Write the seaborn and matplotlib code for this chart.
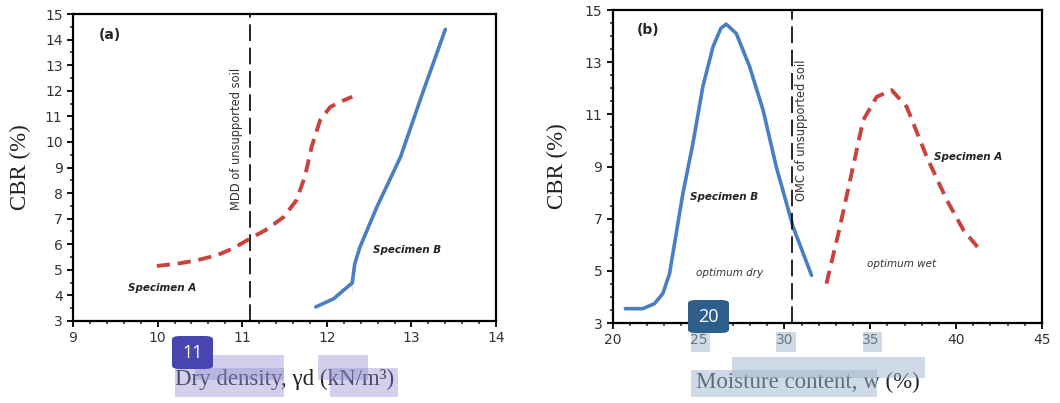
import numpy as np
import pandas as pd
import matplotlib
matplotlib.use("Agg")
import matplotlib.pyplot as plt
import seaborn as sns
from matplotlib.ticker import MultipleLocator, FixedLocator
from matplotlib.patches import Rectangle, FancyBboxPatch

# ---------------- data ----------------
# panel (a): CBR vs dry density
a_specA_x = [9.99, 10.25, 10.46, 10.70, 10.90, 11.09, 11.30, 11.49, 11.64, 11.74, 11.82, 11.92, 12.04, 12.18, 12.30]
a_specA_y = [5.15, 5.25, 5.37, 5.57, 5.85, 6.22, 6.60, 7.07, 7.72, 8.64, 9.81, 10.85, 11.37, 11.60, 11.77]
a_specB_x = [11.87, 12.08, 12.30, 12.30, 12.33, 12.39, 12.59, 12.87, 13.13, 13.40]
a_specB_y = [3.55, 3.87, 4.13, 4.85, 5.24, 5.88, 7.45, 9.41, 11.90, 14.40]
mdd_x = 11.09

# panel (b): CBR vs moisture content
b_specB_x = [20.74, 21.75, 22.43, 22.92, 23.31, 23.70, 24.09, 24.67, 25.25, 25.84, 26.30, 26.61, 27.20, 27.98, 28.76, 29.53, 30.51, 31.58]
b_specB_y = [3.55, 3.55, 3.74, 4.13, 4.89, 6.43, 7.97, 9.88, 12.06, 13.59, 14.30, 14.46, 14.10, 12.82, 11.16, 8.98, 6.68, 4.83]
b_specA_x = [32.45, 33.23, 33.91, 34.59, 35.37, 36.25, 37.12, 38.29, 39.46, 40.43, 41.40]
b_specA_y = [4.51, 6.68, 8.73, 10.78, 11.67, 11.93, 11.29, 9.37, 7.71, 6.56, 5.79]
omc_x = 30.45

a_yticks = list(range(3, 16, 1))
b_yticks = list(range(3, 16, 2))

blue = "#4a7ec2"
red = "#c8433d"

sns.set_style("ticks")
plt.rcParams['font.family'] = ['DejaVu Sans']
serif = ['Liberation Serif', 'DejaVu Serif']

fig = plt.figure(figsize=(10.6, 4.03), dpi=100)
axA = fig.add_axes([0.0689, 0.2035, 0.3991, 0.7615])
axB = fig.add_axes([0.578, 0.1985, 0.405, 0.7765])

def style(ax):
    for s in ax.spines.values():
        s.set_linewidth(1.6)
        s.set_color("black")
    ax.tick_params(which="major", direction="out", length=4, width=1.3, labelsize=10, colors="black")
    ax.tick_params(which="minor", direction="out", length=2.5, width=1.1)
    ax.tick_params(axis="both", labelcolor="#333333")

# panel a
dfa1 = pd.DataFrame({"x": a_specA_x, "y": a_specA_y})
dfa2 = pd.DataFrame({"x": a_specB_x, "y": a_specB_y})
sns.lineplot(data=dfa1, x="x", y="y", ax=axA, sort=False, color=red, lw=2.8)
axA.lines[-1].set_dashes([3.4, 2.0])
sns.lineplot(data=dfa2, x="x", y="y", ax=axA, sort=False, color=blue, lw=2.6)
axA.lines[-1].set_solid_capstyle("round")
axA.axvline(mdd_x, color="black", lw=1.2, dashes=(10, 4))
axA.set_xlim(9, 14)
axA.set_ylim(3, 15)
axA.xaxis.set_major_locator(MultipleLocator(1))
axA.xaxis.set_minor_locator(MultipleLocator(0.2))
axA.yaxis.set_major_locator(FixedLocator(a_yticks))
axA.yaxis.set_minor_locator(MultipleLocator(0.5))
style(axA)
axA.set_xlabel("Dry density, γd (kN/m³)", family=serif, fontsize=16.5, color="#222222", labelpad=17)
axA.set_ylabel("CBR (%)", family=serif, fontsize=16.5, color="#222222", labelpad=10)
axA.text(9.3, 14.18, "(a)", fontsize=10, fontweight="bold", va="center", ha="left")
axA.text(10.93, 10.1, "MDD of unsupported soil", rotation=90, fontsize=8.3, ha="center", va="center", color="#333333")
axA.text(10.05, 4.30, "Specimen A", fontsize=7.5, fontweight="bold", style="italic", ha="center", va="center", color="#222222")
axA.text(12.95, 5.77, "Specimen B", fontsize=7.5, fontweight="bold", style="italic", ha="center", va="center", color="#222222")

# panel b
dfb1 = pd.DataFrame({"x": b_specB_x, "y": b_specB_y})
dfb2 = pd.DataFrame({"x": b_specA_x, "y": b_specA_y})
sns.lineplot(data=dfb1, x="x", y="y", ax=axB, sort=False, color=blue, lw=2.6)
axB.lines[-1].set_solid_capstyle("round")
sns.lineplot(data=dfb2, x="x", y="y", ax=axB, sort=False, color=red, lw=2.8)
axB.lines[-1].set_dashes([3.4, 2.0])
axB.axvline(omc_x, color="black", lw=1.2, dashes=(10, 4))
axB.set_xlim(20, 45)
axB.set_ylim(3, 15)
axB.xaxis.set_major_locator(MultipleLocator(5))
axB.xaxis.set_minor_locator(MultipleLocator(1))
axB.yaxis.set_major_locator(FixedLocator(b_yticks))
axB.yaxis.set_minor_locator(MultipleLocator(0.5))
style(axB)
axB.set_xlabel("Moisture content, w (%)", family=serif, fontsize=16.5, color="#222222")
axB.xaxis.set_label_coords(0.455, -0.155)
axB.set_ylabel("CBR (%)", family=serif, fontsize=16.5, color="#222222", labelpad=12)
axB.text(21.4, 14.23, "(b)", fontsize=10, fontweight="bold", va="center", ha="left")
axB.text(31.0, 10.4, "OMC of unsupported soil", rotation=90, fontsize=8.3, ha="center", va="center", color="#333333")
axB.text(26.5, 7.84, "Specimen B", fontsize=7.5, fontweight="bold", style="italic", ha="center", va="center", color="#222222")
axB.text(40.7, 9.35, "Specimen A", fontsize=7.5, fontweight="bold", style="italic", ha="center", va="center", color="#222222")
axB.text(26.8, 4.92, "optimum dry", fontsize=7.5, style="italic", ha="center", va="center", color="#333333")
axB.text(36.8, 5.28, "optimum wet", fontsize=7.5, style="italic", ha="center", va="center", color="#333333")

# overlay highlights (pixel coords -> figure fraction)
W, H = 1060, 403
def rect(x0, y0, x1, y1, color, alpha):
    fig.patches.append(Rectangle((x0 / W, 1 - y1 / H), (x1 - x0) / W, (y1 - y0) / H,
                                 transform=fig.transFigure, facecolor=color, alpha=alpha,
                                 edgecolor="none", zorder=5))

purple = "#8f8ad0"
rect(195, 355, 284, 380, purple, 0.4)
rect(318, 355, 368, 380, purple, 0.4)
rect(175, 368, 284, 397, purple, 0.4)
rect(330, 368, 398, 397, purple, 0.4)
steel = "#9fb6cc"
rect(691, 332, 710, 352, steel, 0.5)
rect(776, 332, 796, 352, steel, 0.5)
rect(863, 332, 882, 352, steel, 0.5)
rect(732, 357, 925, 378, steel, 0.5)
rect(691, 370, 877, 397, steel, 0.5)

def badge(x0, y0, x1, y1, color, label):
    fig.patches.append(FancyBboxPatch((x0 / W, 1 - y1 / H), (x1 - x0) / W, (y1 - y0) / H,
                                      boxstyle="round,pad=0,rounding_size=0.008",
                                      transform=fig.transFigure, facecolor=color,
                                      edgecolor="none", zorder=6))
    fig.text((x0 + x1) / 2 / W, 1 - (y0 + y1) / 2 / H, label, color="white", fontsize=13,
             ha="center", va="center", zorder=7, family=["Open Sans", "DejaVu Sans"])

badge(172, 336, 213, 369, "#4844b0", "11")
badge(688, 300, 729, 333, "#2e5f8a", "20")

fig.savefig("out.png", dpi=100)
